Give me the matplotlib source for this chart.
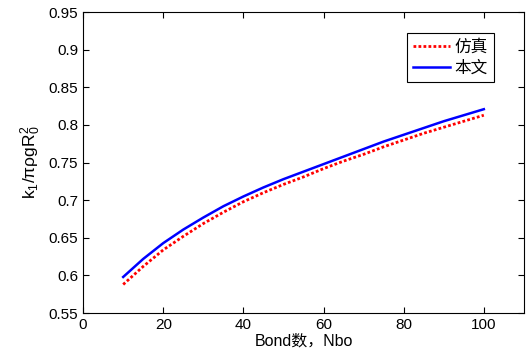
import matplotlib
matplotlib.use('Agg')
import matplotlib.pyplot as plt

plt.rcParams['font.family'] = ['Liberation Sans', 'Noto Sans CJK SC', 'DejaVu Sans']
plt.rcParams['mathtext.fontset'] = 'custom'
plt.rcParams['mathtext.rm'] = 'Liberation Sans'
plt.rcParams['mathtext.it'] = 'Liberation Sans'

nbo = [10, 15, 20, 25, 30, 35, 40, 45, 50, 55, 60, 65, 70, 75, 80, 85, 90, 95, 100]
sim = [0.588, 0.612, 0.634, 0.652, 0.669, 0.684, 0.698, 0.710, 0.721, 0.731, 0.742,
       0.752, 0.761, 0.771, 0.780, 0.789, 0.797, 0.805, 0.813]
paper = [0.598, 0.622, 0.643, 0.661, 0.677, 0.692, 0.705, 0.717, 0.728, 0.738, 0.748,
         0.758, 0.768, 0.778, 0.787, 0.796, 0.805, 0.813, 0.821]

fig = plt.figure(figsize=(5.26, 3.57), dpi=100)
ax = fig.add_axes([0.158, 0.123, 0.838, 0.843])

ax.plot(nbo, sim, color='red', linestyle=(0, (1, 0.8)), linewidth=2, label='仿真')
ax.plot(nbo, paper, color='blue', linestyle='-', linewidth=1.8, label='本文')

ax.set_xlim(0, 110)
ax.set_ylim(0.55, 0.95)
ax.set_xticks([0, 20, 40, 60, 80, 100])
ax.set_yticks([0.55, 0.6, 0.65, 0.7, 0.75, 0.8, 0.85, 0.9, 0.95])
ax.set_yticklabels(['0.55', '0.6', '0.65', '0.7', '0.75', '0.8', '0.85', '0.9', '0.95'])
ax.tick_params(direction='in', top=True, right=True, labelsize=11, length=4)
ax.set_xlabel('Bond数，Nbo', fontsize=11.5, labelpad=1)
ax.set_ylabel(r'k$_1$/πρgR$_0^2$', fontsize=12.5, labelpad=4)

leg = ax.legend(loc='upper right', bbox_to_anchor=(0.932, 0.93), fontsize=12,
                fancybox=False, edgecolor='black', framealpha=1,
                handlelength=2.2, borderpad=0.35, labelspacing=0.35, handletextpad=0.3,
                borderaxespad=0)
leg.get_frame().set_linewidth(0.8)

fig.savefig('out.png', dpi=100)
